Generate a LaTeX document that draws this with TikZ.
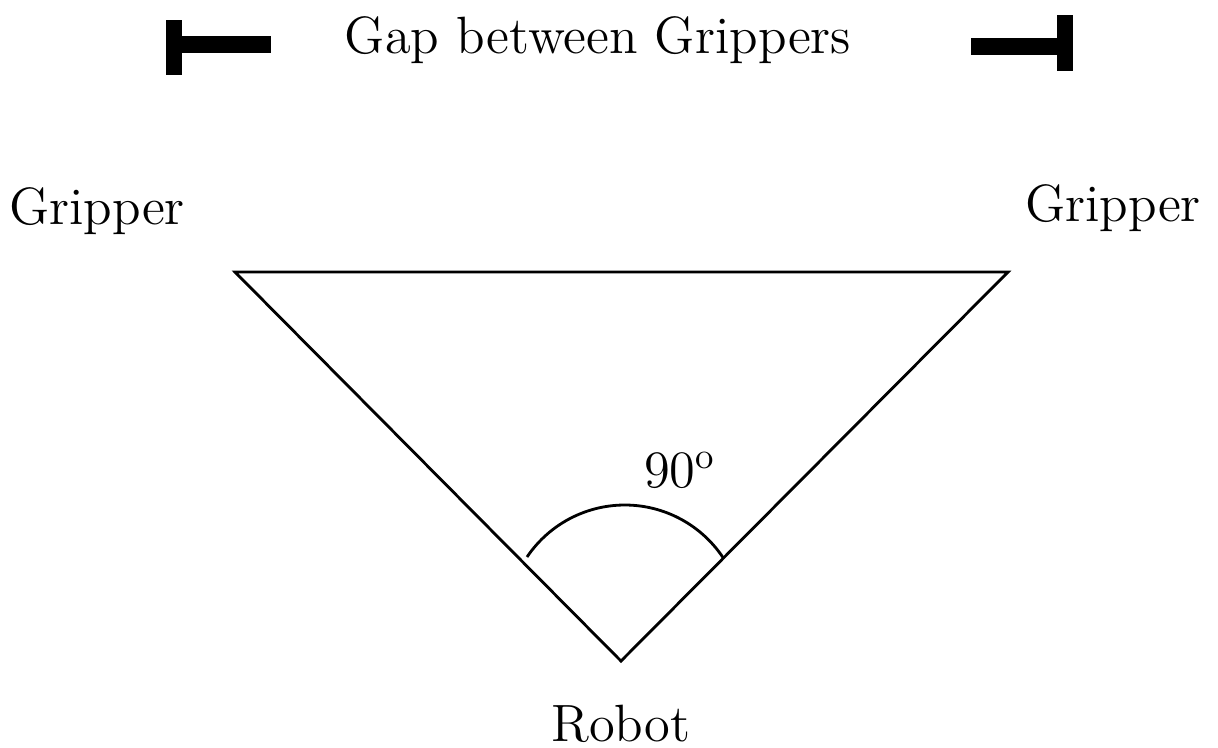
\documentclass[tikz,border=0pt]{standalone}
\usetikzlibrary{positioning}

\begin{document}
\begin{tikzpicture}[
        x=0.01cm, y=-0.01cm,
        every node/.style={font=\fontsize{14.6}{17}\selectfont, inner sep=0pt, scale=1.022},
        side/.style={line width=0.8pt, line join=miter},
        gapbar/.style={line width=4.6pt},
        angle/.style={line width=0.8pt}
    ]
        \useasboundingbox (0,0) rectangle (1218,747);

        % triangle corners
        \coordinate (gripL) at (235,272);
        \coordinate (gripR) at (1008,272);
        \coordinate (robot) at (621,661);

        \node (gap) at (598,40) {Gap between Grippers};
        \node (labelL) at (97,211) {Gripper};
        \node (labelR) at (1113,208) {Gripper};
        \node (labelRobot) at (621,724) {Robot};
        \node (labelAngle) at (680,470) {90\textsuperscript{o}};

        % gap markers
        \coordinate (barLtop) at (174,20);
        \coordinate (barLbot) at (174,75);
        \coordinate (barLend) at (271,44.5);
        \coordinate (barRtop) at (1065,15);
        \coordinate (barRbot) at (1065,71);
        \coordinate (barRend) at (971,46.5);
        \draw[gapbar] (barLtop) -- (barLbot);
        \draw[gapbar] (barLtop |- barLend) -- (barLend);
        \draw[gapbar] (barRtop) -- (barRbot);
        \draw[gapbar] (barRtop |- barRend) -- (barRend);

        \draw[side] (gripL) -- (gripR) -- (robot) -- cycle;

        \draw[angle] (527,557) arc[start angle=214, end angle=327, radius=118];
    \end{tikzpicture}
\end{document}
